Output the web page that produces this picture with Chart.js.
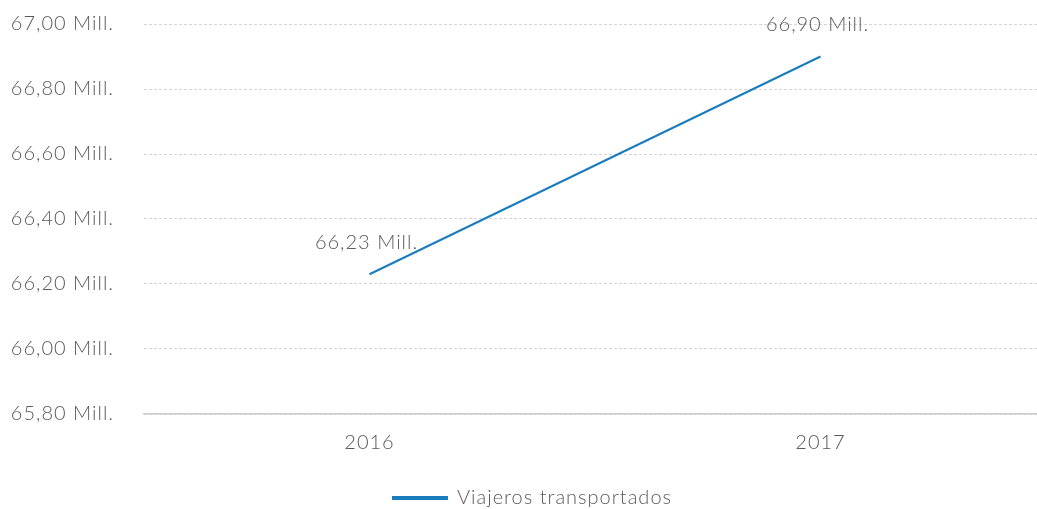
<!DOCTYPE html>
<html>
<head>
<meta charset="utf-8">
<script src="https://cdn.jsdelivr.net/npm/chart.js@4/dist/chart.umd.min.js"></script>
<style>
	html, body { margin: 0; padding: 0; background: #fff; }
	#wrap { width: 1037px; height: 509px; position: relative; }
</style>
</head>
<body>
<div id="wrap"><canvas id="chart"></canvas></div>
<script>
let years = ["2016", "2017"];
let viajeros = [66.23, 66.90];
let serieLabel = "Viajeros transportados";
let yMin = 65.8;
let yMax = 67.0;

let lineColor = "#1a7bbd";
let textColor = "#595959";
let fontFamily = "Lato, 'Open Sans', sans-serif";
let fontSize = 20;

function formatMill(v){
	return v.toFixed(2).replace('.', ',') + ' Mill.';
}

// la fuente original es mas ancha: un poco de espaciado
const spacingPlugin = {
	id: 'spacing',
	beforeUpdate(chart) { chart.ctx.letterSpacing = '1px'; },
	beforeDraw(chart) { chart.ctx.letterSpacing = '1px'; }
};

// la leyenda del original esta algo desplazada a la derecha
const legendShift = {
	id: 'legendShift',
	afterLayout(chart) {
		if (chart.legend) { chart.legend.left += 28; }
	}
};

// etiquetas encima de cada punto
const labelsPlugin = {
	id: 'pointLabels',
	afterDatasetsDraw(chart) {
		const ctx = chart.ctx;
		const meta = chart.getDatasetMeta(0);
		ctx.save();
		ctx.font = '300 ' + fontSize + 'px ' + fontFamily;
		ctx.fillStyle = textColor;
		ctx.textAlign = 'center';
		ctx.textBaseline = 'middle';
		meta.data.forEach(function (pt, i) {
			ctx.fillText(formatMill(viajeros[i]), pt.x - 3, pt.y - 32);
		});
		ctx.restore();
	}
};

let points = viajeros.map(function (v, i) { return { x: i, y: v }; });

let ctx = document.getElementById("chart");
let myChart = new Chart(ctx, {
	type: 'line',
	data: {
		datasets: [{
			label: serieLabel,
			data: points,
			borderColor: lineColor,
			backgroundColor: lineColor,
			borderWidth: 2,
			pointRadius: 0,
			fill: false,
			tension: 0
		}]
	},
	options: {
		responsive: true,
		maintainAspectRatio: false,
		animation: false,
		layout: { padding: { top: 24, right: 0, left: 0, bottom: -9 } },
		plugins: {
			legend: {
				position: 'bottom',
				labels: {
					boxWidth: 54,
					boxHeight: 2,
					padding: 22,
					color: textColor,
					font: { family: fontFamily, size: fontSize, weight: '300' }
				}
			},
			tooltip: { enabled: false }
		},
		scales: {
			x: {
				type: 'linear',
				min: -0.5,
				max: 1.48,
				afterBuildTicks: function (scale) {
					scale.ticks = years.map(function (y, i) { return { value: i }; });
				},
				afterFit: function (scale) { scale.height += 2; },
				grid: { display: false },
				border: { display: true, color: '#cccccc', width: 1.5 },
				ticks: {
					color: textColor,
					padding: 9,
					font: { family: fontFamily, size: fontSize, weight: '300' },
					callback: function (value) { return years[value]; }
				}
			},
			y: {
				min: yMin,
				max: yMax,
				afterFit: function (scale) {
					scale.width = 144;
					scale.paddingTop = 0;
					scale.paddingBottom = 0;
				},
				grid: { color: '#d4d4d4', lineWidth: 1, drawTicks: false },
				border: { display: false, dash: [3, 2] },
				ticks: {
					stepSize: 0.2,
					padding: 30,
					color: textColor,
					font: { family: fontFamily, size: fontSize, weight: '300' },
					callback: function (value) { return formatMill(value); }
				}
			}
		}
	},
	plugins: [spacingPlugin, legendShift, labelsPlugin]
});
</script>
</body>
</html>
